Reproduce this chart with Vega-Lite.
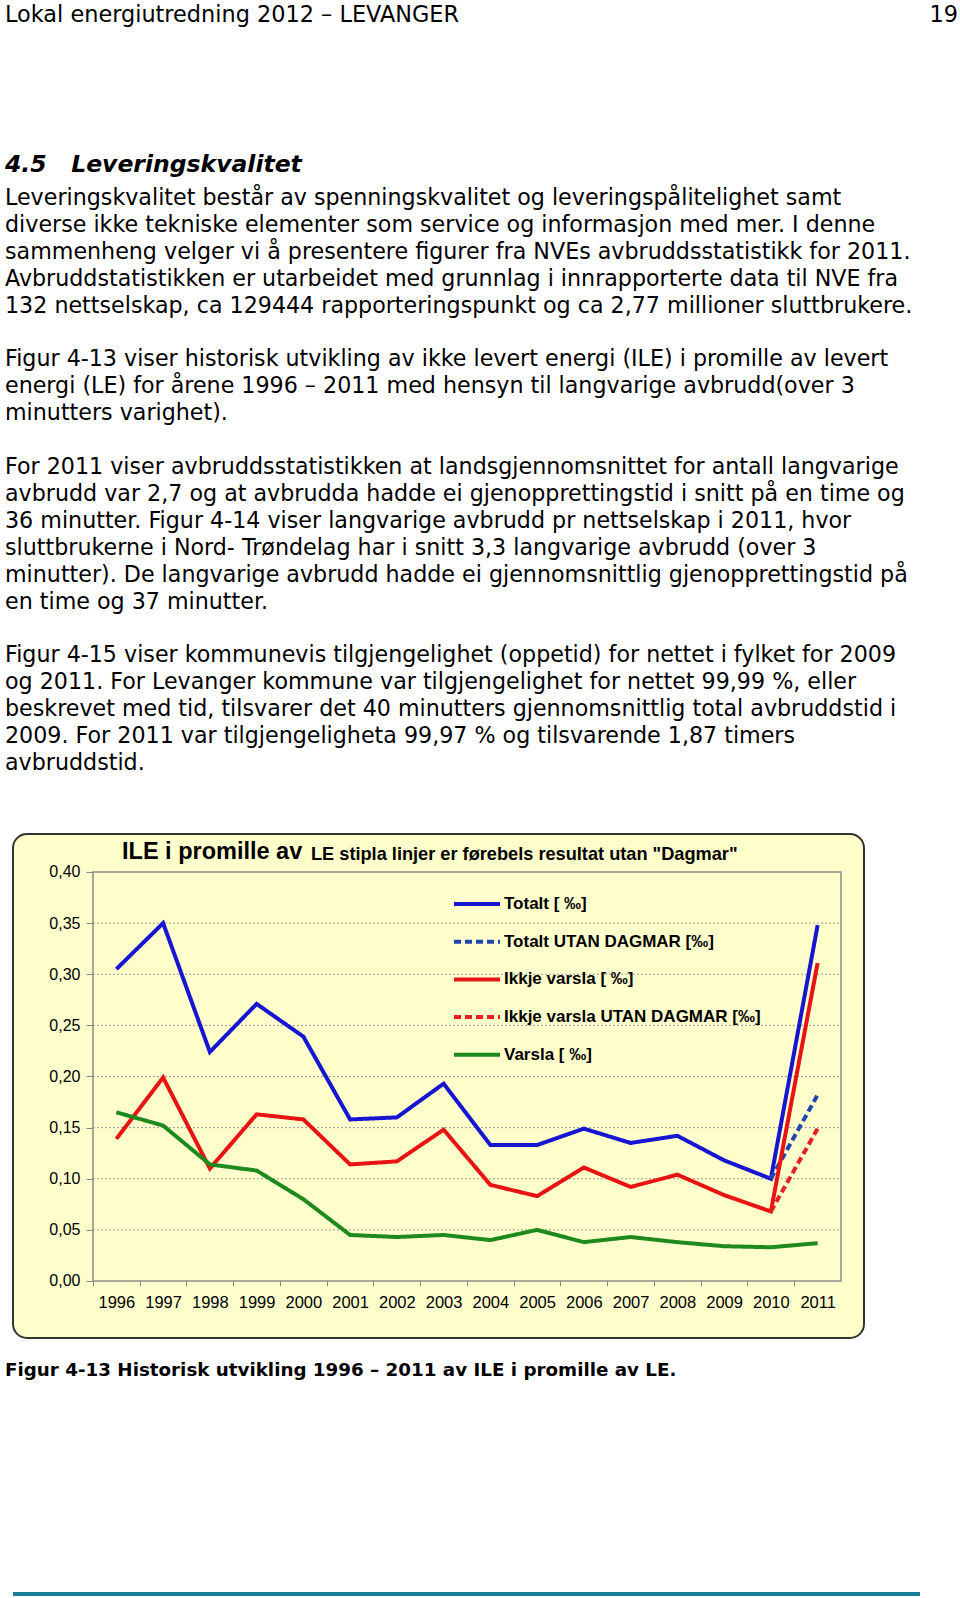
{
  "$schema": "https://vega.github.io/schema/vega-lite/v6.json",
  "background": "#ffffff",
  "padding": {"left": 5, "top": 3, "right": 0, "bottom": 0},
  "spacing": 0,
  "config": {
    "view": {"stroke": null},
    "title": {"color": "#000000", "anchor": "start", "fontWeight": "normal"}
  },
  "vconcat": [
    {
      "hconcat": [
        {"width": 895, "height": 126, "data": {"values": []}, "mark": "text",
         "title": {"text": "Lokal energiutredning 2012 – LEVANGER", "font": "DejaVu Sans", "fontSize": 22.4, "dx": -8, "offset": 0}},
        {"width": 48, "height": 126, "data": {"values": []}, "mark": "text",
         "title": {"text": "19", "anchor": "end", "font": "DejaVu Sans", "fontSize": 22.4, "offset": 0}}
      ],
      "spacing": 2
    },
    {
      "width": 895, "height": 30.6, "data": {"values": []}, "mark": "text",
      "title": {
        "text": "4.5\u00a0\u00a0\u00a0Leveringskvalitet",
        "font": "DejaVu Sans", "fontSize": 23.5, "fontWeight": "bold", "fontStyle": "italic",
        "dx": -8, "offset": 0,
        "subtitle": [
          "Leveringskvalitet består av spenningskvalitet og leveringspålitelighet samt",
          "diverse ikke tekniske elementer som service og informasjon med mer. I denne",
          "sammenheng velger vi å presentere figurer fra NVEs avbruddsstatistikk for 2011.",
          "Avbruddstatistikken er utarbeidet med grunnlag i innrapporterte data til NVE fra",
          "132 nettselskap, ca 129444 rapporteringspunkt og ca 2,77 millioner sluttbrukere."
        ],
        "subtitleFont": "DejaVu Sans", "subtitleFontSize": 22.2, "subtitleLineHeight": 26.9,
        "subtitlePadding": 11, "subtitleColor": "#000000"
      }
    },
    {
      "width": 895, "height": 31.6, "data": {"values": []}, "mark": "text",
      "title": {
        "text": [
          "Figur 4-13 viser historisk utvikling av ikke levert energi (ILE) i promille av levert",
          "energi (LE) for årene 1996 – 2011 med hensyn til langvarige avbrudd(over 3",
          "minutters varighet)."
        ],
        "font": "DejaVu Sans", "fontSize": 22.2, "lineHeight": 26.9, "dx": -8, "offset": 0
      }
    },
    {
      "width": 895, "height": 30.6, "data": {"values": []}, "mark": "text",
      "title": {
        "text": [
          "For 2011 viser avbruddsstatistikken at landsgjennomsnittet for antall langvarige",
          "avbrudd var 2,7 og at avbrudda hadde ei gjenopprettingstid i snitt på en time og",
          "36 minutter. Figur 4-14 viser langvarige avbrudd pr nettselskap i 2011, hvor",
          "sluttbrukerne i Nord- Trøndelag har i snitt 3,3 langvarige avbrudd (over 3",
          "minutter). De langvarige avbrudd hadde ei gjennomsnittlig gjenopprettingstid på",
          "en time og 37 minutter."
        ],
        "font": "DejaVu Sans", "fontSize": 22.2, "lineHeight": 26.9, "dx": -8, "offset": 0
      }
    },
    {
      "width": 895, "height": 59, "data": {"values": []}, "mark": "text",
      "title": {
        "text": [
          "Figur 4-15 viser kommunevis tilgjengelighet (oppetid) for nettet i fylket for 2009",
          "og 2011. For Levanger kommune var tilgjengelighet for nettet 99,99 %, eller",
          "beskrevet med tid, tilsvarer det 40 minutters gjennomsnittlig total avbruddstid i",
          "2009. For 2011 var tilgjengeligheta 99,97 % og tilsvarende 1,87 timers",
          "avbruddstid."
        ],
        "font": "DejaVu Sans", "fontSize": 22.2, "lineHeight": 26.9, "dx": -8, "offset": 0
      }
    },
    {
      "width": 851, "height": 504,
      "view": {"fill": "#FFFFCC", "stroke": "#333333", "strokeWidth": 2, "cornerRadius": 14},
      "title": {"text": "ILE i promille av", "font": "Liberation Sans", "fontSize": 23.5, "fontWeight": "bold", "anchor": "start", "dx": 109, "offset": -29, "color": "#000000"},
      "layer": [
        {
          "data": {"values": [{"grid": 0.05}, {"grid": 0.1}, {"grid": 0.15}, {"grid": 0.2}, {"grid": 0.25}, {"grid": 0.3}, {"grid": 0.35}]},
          "mark": {"type": "rule", "color": "#9a9a9a", "strokeWidth": 1, "strokeDash": [2, 2]},
          "encoding": {
            "y": {"field": "grid", "type": "quantitative", "scale": {"domain": [-0.05575, 0.43716], "nice": false, "zero": false}},
            "x": {"datum": 1995.5, "type": "quantitative", "scale": {"domain": [1993.789, 2011.992], "nice": false, "zero": false}},
            "x2": {"datum": 2011.5}
          }
        },
        {
          "data": {"values": [{}]},
          "mark": {"type": "rect", "filled": false, "stroke": "#8c8c8c", "strokeWidth": 1.5},
          "encoding": {
            "x": {"datum": 1995.5, "type": "quantitative"},
            "x2": {"datum": 2011.5},
            "y": {"datum": 0, "type": "quantitative"},
            "y2": {"datum": 0.4}
          }
        },
        {
          "data": {"values": [
            {"year": 1996, "series": "Totalt [ ‰]", "value": 0.305},
            {"year": 1997, "series": "Totalt [ ‰]", "value": 0.350},
            {"year": 1998, "series": "Totalt [ ‰]", "value": 0.224},
            {"year": 1999, "series": "Totalt [ ‰]", "value": 0.271},
            {"year": 2000, "series": "Totalt [ ‰]", "value": 0.239},
            {"year": 2001, "series": "Totalt [ ‰]", "value": 0.158},
            {"year": 2002, "series": "Totalt [ ‰]", "value": 0.160},
            {"year": 2003, "series": "Totalt [ ‰]", "value": 0.193},
            {"year": 2004, "series": "Totalt [ ‰]", "value": 0.133},
            {"year": 2005, "series": "Totalt [ ‰]", "value": 0.133},
            {"year": 2006, "series": "Totalt [ ‰]", "value": 0.149},
            {"year": 2007, "series": "Totalt [ ‰]", "value": 0.135},
            {"year": 2008, "series": "Totalt [ ‰]", "value": 0.142},
            {"year": 2009, "series": "Totalt [ ‰]", "value": 0.118},
            {"year": 2010, "series": "Totalt [ ‰]", "value": 0.100},
            {"year": 2011, "series": "Totalt [ ‰]", "value": 0.348},
            {"year": 2010, "series": "Totalt UTAN DAGMAR [‰]", "value": 0.100},
            {"year": 2011, "series": "Totalt UTAN DAGMAR [‰]", "value": 0.182},
            {"year": 1996, "series": "Ikkje varsla [ ‰]", "value": 0.139},
            {"year": 1997, "series": "Ikkje varsla [ ‰]", "value": 0.199},
            {"year": 1998, "series": "Ikkje varsla [ ‰]", "value": 0.110},
            {"year": 1999, "series": "Ikkje varsla [ ‰]", "value": 0.163},
            {"year": 2000, "series": "Ikkje varsla [ ‰]", "value": 0.158},
            {"year": 2001, "series": "Ikkje varsla [ ‰]", "value": 0.114},
            {"year": 2002, "series": "Ikkje varsla [ ‰]", "value": 0.117},
            {"year": 2003, "series": "Ikkje varsla [ ‰]", "value": 0.148},
            {"year": 2004, "series": "Ikkje varsla [ ‰]", "value": 0.094},
            {"year": 2005, "series": "Ikkje varsla [ ‰]", "value": 0.083},
            {"year": 2006, "series": "Ikkje varsla [ ‰]", "value": 0.111},
            {"year": 2007, "series": "Ikkje varsla [ ‰]", "value": 0.092},
            {"year": 2008, "series": "Ikkje varsla [ ‰]", "value": 0.104},
            {"year": 2009, "series": "Ikkje varsla [ ‰]", "value": 0.084},
            {"year": 2010, "series": "Ikkje varsla [ ‰]", "value": 0.068},
            {"year": 2011, "series": "Ikkje varsla [ ‰]", "value": 0.311},
            {"year": 2010, "series": "Ikkje varsla UTAN DAGMAR [‰]", "value": 0.068},
            {"year": 2011, "series": "Ikkje varsla UTAN DAGMAR [‰]", "value": 0.149},
            {"year": 1996, "series": "Varsla [ ‰]", "value": 0.165},
            {"year": 1997, "series": "Varsla [ ‰]", "value": 0.152},
            {"year": 1998, "series": "Varsla [ ‰]", "value": 0.114},
            {"year": 1999, "series": "Varsla [ ‰]", "value": 0.108},
            {"year": 2000, "series": "Varsla [ ‰]", "value": 0.080},
            {"year": 2001, "series": "Varsla [ ‰]", "value": 0.045},
            {"year": 2002, "series": "Varsla [ ‰]", "value": 0.043},
            {"year": 2003, "series": "Varsla [ ‰]", "value": 0.045},
            {"year": 2004, "series": "Varsla [ ‰]", "value": 0.040},
            {"year": 2005, "series": "Varsla [ ‰]", "value": 0.050},
            {"year": 2006, "series": "Varsla [ ‰]", "value": 0.038},
            {"year": 2007, "series": "Varsla [ ‰]", "value": 0.043},
            {"year": 2008, "series": "Varsla [ ‰]", "value": 0.038},
            {"year": 2009, "series": "Varsla [ ‰]", "value": 0.034},
            {"year": 2010, "series": "Varsla [ ‰]", "value": 0.033},
            {"year": 2011, "series": "Varsla [ ‰]", "value": 0.037}
          ]},
          "mark": {"type": "line", "strokeWidth": 4},
          "encoding": {
            "x": {"field": "year", "type": "quantitative",
                  "axis": {"values": [1996, 1997, 1998, 1999, 2000, 2001, 2002, 2003, 2004, 2005, 2006, 2007, 2008, 2009, 2010, 2011],
                           "format": "d", "orient": "bottom", "offset": -57, "domain": false, "grid": false,
                           "tickSize": 5, "tickColor": "#888888", "tickOffset": -23.375, "labelOffset": 23.375,
                           "labelPadding": 8, "labelFont": "Liberation Sans", "labelFontSize": 16.5, "labelColor": "#000000",
                           "labelFlush": false, "labelOverlap": false, "labelBound": false, "title": null}},
            "y": {"field": "value", "type": "quantitative",
                  "axis": {"values": [0, 0.05, 0.1, 0.15, 0.2, 0.25, 0.3, 0.35, 0.4],
                           "labelExpr": "replace(format(datum.value, '.2f'), '.', ',')",
                           "orient": "left", "offset": -80, "domain": false, "grid": false,
                           "tickSize": 7, "tickColor": "#888888", "labelPadding": 6,
                           "labelFont": "Liberation Sans", "labelFontSize": 16, "labelColor": "#000000",
                           "labelFlush": false, "labelOverlap": false, "title": null}},
            "color": {"field": "series", "type": "nominal",
                      "scale": {"domain": ["Totalt [ ‰]", "Totalt UTAN DAGMAR [‰]", "Ikkje varsla [ ‰]", "Ikkje varsla UTAN DAGMAR [‰]", "Varsla [ ‰]"],
                                "range": ["#1515D2", "#1f45b0", "#E81414", "#E81E1E", "#1E8A1E"]},
                      "legend": {"title": null, "orient": "none", "legendX": 439, "legendY": 868, "direction": "vertical",
                                 "symbolType": "stroke", "symbolSize": 2116, "symbolStrokeWidth": 4,
                                 "labelFont": "Liberation Sans", "labelFontSize": 17, "labelFontWeight": "bold", "labelColor": "#000000",
                                 "labelOffset": 2, "clipHeight": 20, "rowPadding": 17.7, "padding": 0, "labelLimit": 400}},
            "strokeDash": {"field": "series", "type": "nominal",
                           "scale": {"domain": ["Totalt [ ‰]", "Totalt UTAN DAGMAR [‰]", "Ikkje varsla [ ‰]", "Ikkje varsla UTAN DAGMAR [‰]", "Varsla [ ‰]"],
                                     "range": [[1, 0], [7, 4], [1, 0], [7, 4], [1, 0]]}}
          }
        },
        {
          "data": {"values": [{"label": "LE stipla linjer er førebels resultat utan \"Dagmar\""}]},
          "mark": {"type": "text", "font": "Liberation Sans", "fontSize": 18.2, "fontWeight": "bold", "align": "left", "baseline": "alphabetic", "color": "#000000"},
          "encoding": {
            "text": {"field": "label", "type": "nominal"},
            "x": {"datum": 2000.163, "type": "quantitative"},
            "y": {"datum": 0.4117, "type": "quantitative"}
          }
        }
      ]
    },
    {
      "width": 895, "height": 212, "data": {"values": []}, "mark": "text",
      "title": {"text": ["\u00a0", "Figur 4-13 Historisk utvikling 1996 – 2011 av ILE i promille av LE."],
                "font": "DejaVu Sans", "fontSize": 18.3, "fontWeight": "bold", "lineHeight": 21.5, "dx": -8, "offset": 0}
    },
    {
      "width": 907, "height": 4, "data": {"values": []}, "mark": "text",
      "view": {"fill": "#1a7d96", "stroke": null}
    }
  ]
}
